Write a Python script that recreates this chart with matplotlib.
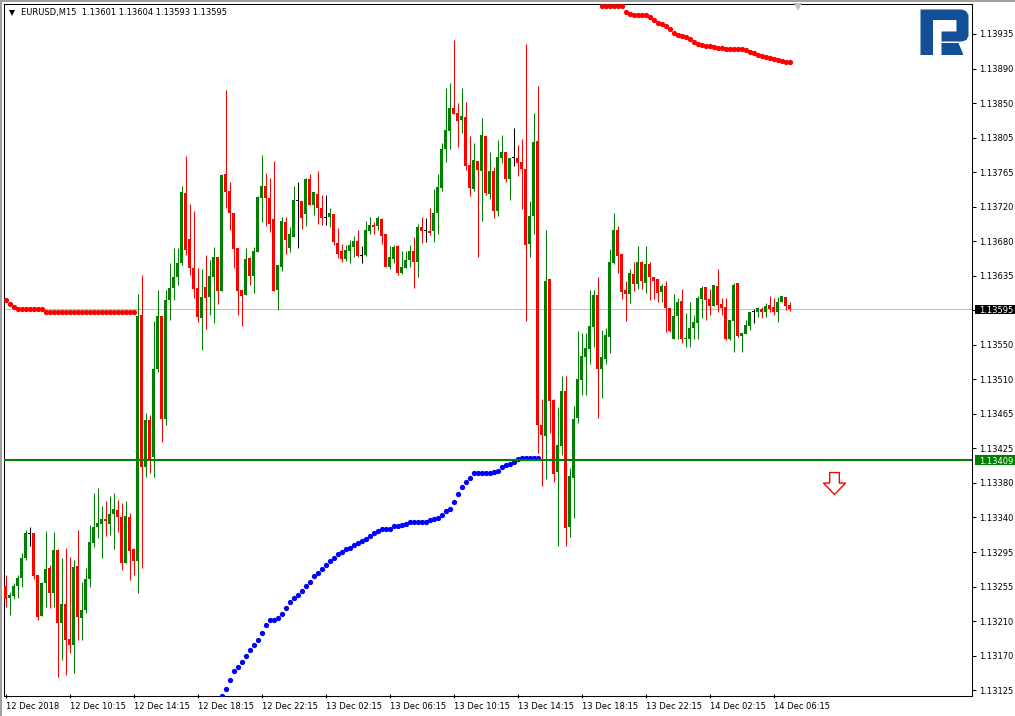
import numpy as np
import matplotlib
matplotlib.use('Agg')
import matplotlib.pyplot as plt
import matplotlib.transforms as mtransforms
from matplotlib.patches import Polygon, Rectangle
from matplotlib.lines import Line2D
from matplotlib.path import Path

plt.rcParams['font.family'] = 'DejaVu Sans'

symbol = 'EURUSD,M15'

# OHLC in points (1e-5), bar 0 = 12 Dec 2018 06:15, M15
open_pts = [113253, 113239, 113241, 113253, 113263, 113288, 113319, 113319, 113267, 113216,
            113257, 113276, 113245, 113298, 113208, 113231, 113188, 113181, 113278, 113214,
            113224, 113262, 113307, 113326, 113330, 113336, 113330, 113342, 113347, 113339,
            113282, 113339, 113299, 113284, 113588, 113400, 113458, 113413, 113521, 113587,
            113460, 113607, 113621, 113635, 113652, 113739, 113682, 113646, 113621, 113584,
            113623, 113610, 113635, 113660, 113618, 113762, 113741, 113714, 113671, 113619,
            113613, 113658, 113636, 113666, 113733, 113747, 113733, 113707, 113619, 113647,
            113703, 113671, 113684, 113730, 113729, 113713, 113756, 113724, 113737, 113720,
            113709, 113709, 113713, 113677, 113667, 113657, 113667, 113672, 113679, 113662,
            113662, 113692, 113699, 113698, 113707, 113688, 113647, 113657, 113673, 113640,
            113646, 113656, 113667, 113654, 113697, 113693, 113692, 113692, 113714, 113745,
            113793, 113815, 113844, 113837, 113829, 113832, 113773, 113744, 113778, 113766,
            113809, 113737, 113766, 113717, 113782, 113789, 113756, 113782, 113782, 113777,
            113768, 113676, 113710, 113803, 113452, 113439, 113633, 113483, 113394, 113426,
            113494, 113326, 113387, 113461, 113508, 113536, 113546, 113573, 113613, 113521,
            113534, 113561, 113652, 113693, 113663, 113619, 113614, 113639, 113626, 113654,
            113628, 113651, 113635, 113633, 113617, 113624, 113597, 113559, 113587, 113605,
            113558, 113559, 113572, 113578, 113608, 113623, 113608, 113599, 113624, 113602,
            113598, 113559, 113581, 113628, 113562, 113565, 113574, 113592, 113592, 113596,
            113592, 113600, 113598, 113592, 113604, 113610, 113601]
high_pts = [113267, 113246, 113257, 113267, 113294, 113323, 113326, 113319, 113267, 113258,
            113321, 113279, 113320, 113299, 113288, 113300, 113289, 113286, 113323, 113258,
            113276, 113329, 113368, 113375, 113352, 113358, 113365, 113368, 113360, 113356,
            113358, 113344, 113300, 113614, 113637, 113467, 113465, 113581, 113619, 113587,
            113619, 113652, 113671, 113671, 113747, 113784, 113725, 113716, 113646, 113645,
            113662, 113656, 113672, 113660, 113762, 113866, 113752, 113714, 113671, 113619,
            113671, 113660, 113672, 113735, 113786, 113763, 113757, 113778, 113650, 113709,
            113709, 113697, 113747, 113752, 113729, 113757, 113762, 113740, 113766, 113736,
            113736, 113720, 113713, 113696, 113676, 113675, 113681, 113686, 113693, 113673,
            113704, 113709, 113703, 113710, 113708, 113688, 113673, 113675, 113675, 113667,
            113667, 113675, 113684, 113700, 113709, 113708, 113720, 113744, 113762, 113800,
            113868, 113874, 113928, 113850, 113868, 113851, 113809, 113800, 113778, 113831,
            113809, 113789, 113771, 113804, 113810, 113789, 113782, 113819, 113798, 113805,
            113923, 113729, 113837, 113871, 113484, 113693, 113633, 113484, 113475, 113513,
            113513, 113399, 113476, 113568, 113566, 113566, 113619, 113619, 113635, 113570,
            113572, 113670, 113714, 113698, 113663, 113630, 113645, 113654, 113673, 113655,
            113673, 113654, 113635, 113633, 113626, 113630, 113597, 113614, 113609, 113620,
            113591, 113604, 113588, 113612, 113624, 113623, 113620, 113625, 113645, 113609,
            113609, 113582, 113628, 113628, 113566, 113582, 113592, 113596, 113598, 113598,
            113603, 113612, 113609, 113610, 113612, 113610, 113604]
low_pts = [113228, 113218, 113237, 113239, 113252, 113286, 113303, 113262, 113212, 113216,
           113228, 113226, 113228, 113141, 113162, 113144, 113171, 113146, 113187, 113187,
           113220, 113252, 113302, 113313, 113288, 113315, 113317, 113299, 113320, 113273,
           113282, 113261, 113267, 113245, 113276, 113388, 113393, 113388, 113518, 113431,
           113452, 113582, 113607, 113625, 113650, 113662, 113637, 113609, 113579, 113545,
           113571, 113588, 113578, 113602, 113618, 113720, 113693, 113646, 113588, 113574,
           113613, 113625, 113615, 113666, 113703, 113698, 113691, 113618, 113594, 113642,
           113663, 113666, 113684, 113671, 113694, 113698, 113724, 113712, 113700, 113699,
           113699, 113697, 113675, 113658, 113654, 113655, 113652, 113660, 113660, 113652,
           113661, 113688, 113688, 113693, 113676, 113647, 113645, 113652, 113637, 113639,
           113646, 113647, 113621, 113635, 113677, 113678, 113687, 113678, 113688, 113741,
           113777, 113793, 113836, 113795, 113813, 113767, 113735, 113741, 113660, 113704,
           113736, 113731, 113708, 113710, 113776, 113752, 113730, 113772, 113760, 113719,
           113581, 113660, 113688, 113418, 113377, 113386, 113443, 113382, 113303, 113415,
           113303, 113314, 113337, 113455, 113489, 113489, 113528, 113549, 113461, 113486,
           113528, 113541, 113651, 113640, 113608, 113581, 113603, 113618, 113620, 113620,
           113615, 113607, 113608, 113604, 113604, 113567, 113567, 113559, 113558, 113553,
           113549, 113549, 113559, 113559, 113584, 113582, 113588, 113599, 113592, 113588,
           113557, 113557, 113542, 113561, 113542, 113565, 113570, 113578, 113586, 113584,
           113586, 113592, 113588, 113579, 113604, 113594, 113593]
close_pts = [113237, 113242, 113253, 113263, 113288, 113319, 113319, 113266, 113215, 113257,
             113274, 113245, 113298, 113208, 113231, 113187, 113181, 113277, 113215, 113224,
             113262, 113308, 113326, 113331, 113336, 113334, 113342, 113349, 113339, 113282,
             113340, 113297, 113284, 113587, 113400, 113458, 113409, 113521, 113587, 113460,
             113607, 113621, 113635, 113652, 113740, 113668, 113646, 113620, 113586, 113610,
             113609, 113636, 113660, 113618, 113761, 113740, 113714, 113670, 113618, 113612,
             113657, 113636, 113667, 113734, 113747, 113733, 113700, 113618, 113650, 113704,
             113681, 113688, 113730, 113730, 113708, 113756, 113724, 113740, 113720, 113708,
             113709, 113714, 113678, 113663, 113657, 113668, 113675, 113679, 113661, 113662,
             113693, 113699, 113697, 113708, 113686, 113647, 113660, 113672, 113640, 113647,
             113656, 113667, 113654, 113697, 113692, 113693, 113689, 113714, 113746, 113793,
             113816, 113844, 113836, 113828, 113834, 113772, 113745, 113779, 113767, 113810,
             113739, 113766, 113717, 113783, 113789, 113756, 113782, 113782, 113776, 113768,
             113675, 113710, 113802, 113452, 113440, 113630, 113482, 113392, 113428, 113494,
             113325, 113389, 113460, 113509, 113537, 113547, 113574, 113613, 113521, 113536,
             113563, 113654, 113693, 113661, 113617, 113614, 113640, 113626, 113654, 113630,
             113651, 113635, 113630, 113615, 113624, 113597, 113568, 113587, 113604, 113559,
             113559, 113572, 113579, 113609, 113621, 113607, 113599, 113625, 113600, 113597,
             113559, 113582, 113625, 113562, 113566, 113576, 113592, 113592, 113597, 113592,
             113599, 113596, 113592, 113604, 113612, 113599, 113595]

# parabolic SAR dots: first bar index + values in points
sar_left_start = 0
sar_left_pts = [113607, 113602, 113598, 113596, 113595, 113595, 113595, 113595, 113595, 113595,
                113592, 113592, 113592, 113592, 113592, 113592, 113592, 113592, 113592, 113592,
                113592, 113592, 113592, 113592, 113592, 113592, 113592, 113592, 113592, 113592,
                113592, 113592, 113592]
sar_blue_start = 54
sar_blue_pts = [113118, 113127, 113138, 113149, 113154, 113160, 113167, 113175, 113181, 113187,
                113196, 113205, 113212, 113212, 113214, 113219, 113227, 113234, 113239, 113242,
                113248, 113254, 113259, 113266, 113270, 113275, 113280, 113284, 113288, 113293,
                113296, 113299, 113301, 113304, 113307, 113309, 113312, 113315, 113319, 113321,
                113324, 113324, 113324, 113328, 113328, 113329, 113330, 113332, 113332, 113332,
                113332, 113333, 113335, 113336, 113337, 113341, 113346, 113349, 113357, 113367,
                113376, 113382, 113387, 113393, 113393, 113393, 113393, 113393, 113394, 113395,
                113400, 113403, 113404, 113407, 113410, 113411, 113411, 113411, 113411, 113411]
sar_top_start = 149
sar_top_pts = [113969, 113969, 113969, 113969, 113969, 113969, 113962, 113960, 113958, 113958,
               113958, 113958, 113956, 113952, 113949, 113947, 113945, 113941, 113936, 113934,
               113932, 113931, 113929, 113925, 113923, 113921, 113920, 113920, 113919, 113918,
               113918, 113917, 113916, 113916, 113916, 113916, 113915, 113913, 113911, 113909,
               113908, 113907, 113905, 113904, 113903, 113902, 113901, 113900]

level_price = 1.13409
arrow_bar = 207
arrow_price = 1.13381
shift_bar = 198

time_ticks = [0, 16, 32, 48, 64, 80, 96, 112, 128, 144, 160, 176, 192]
time_labels = ['12 Dec 2018', '12 Dec 10:15', '12 Dec 14:15', '12 Dec 18:15', '12 Dec 22:15',
               '13 Dec 02:15', '13 Dec 06:15', '13 Dec 10:15', '13 Dec 14:15', '13 Dec 18:15',
               '13 Dec 22:15', '14 Dec 02:15', '14 Dec 06:15']
price_labels = ['1.13935', '1.13890', '1.13850', '1.13805', '1.13765', '1.13720', '1.13680',
                '1.13635', '1.13595', '1.13550', '1.13510', '1.13465', '1.13425', '1.13380',
                '1.13340', '1.13295', '1.13255', '1.13210', '1.13170', '1.13125']

UP, DOWN, DOJI = '#008000', '#ff0000', '#000000'

o = np.array(open_pts) / 1e5
h = np.array(high_pts) / 1e5
l = np.array(low_pts) / 1e5
c = np.array(close_pts) / 1e5
n = len(o)
x = np.arange(n)

W, H = 1015, 716
fig = plt.figure(figsize=(W / 100, H / 100), dpi=100)
fig.patch.set_facecolor('white')
ax = fig.add_axes([4 / W, 20 / H, 968 / W, 692 / H])
ax.set_xlim(-0.375, 241.625)
y_lo, y_hi = 1.131178, 1.139720
ax.set_ylim(y_lo, y_hi)
px = (y_hi - y_lo) / 692

cols = np.where(c > o, UP, np.where(c < o, DOWN, DOJI))

ax.axhline(c[-1], color='#c0c0c0', lw=0.75, zorder=1)
ax.vlines(x, l, h, colors=cols, lw=0.75, zorder=2)
body_lo = np.minimum(o, c)
body_h = np.abs(c - o)
thin = body_h < px
body_lo[thin] -= (px - body_h[thin]) / 2
body_h[thin] = px
ax.bar(x, body_h, bottom=body_lo, width=0.75, color=cols, linewidth=0, zorder=3)

for start, vals, col in [(sar_left_start, sar_left_pts, '#ff0000'),
                         (sar_blue_start, sar_blue_pts, '#0000ff'),
                         (sar_top_start, sar_top_pts, '#ff0000')]:
    xs = np.arange(start, start + len(vals))
    ax.plot(xs, np.array(vals) / 1e5, 'o', color=col, ms=3.8, mew=0, zorder=4)

ax.axhline(level_price, color=UP, lw=1.5, zorder=5)

# sell arrow object
arrow_path = Path([(-0.22, 0.5), (0.22, 0.5), (0.22, 0.02), (0.5, 0.02), (0, -0.5),
                   (-0.5, 0.02), (-0.22, 0.02), (-0.22, 0.5)],
                  [Path.MOVETO] + [Path.LINETO] * 6 + [Path.CLOSEPOLY])
ax.plot([arrow_bar], [arrow_price], marker=arrow_path, ms=15.8, mfc='white',
        mec='#ff0000', mew=1, zorder=6)

# chart shift marker
ax.plot([shift_bar], [1 - 3 / 692], marker='v', ms=6, color='#c0c0c0', mew=0,
        transform=ax.get_xaxis_transform(), clip_on=False, zorder=6)

# axes
ax.yaxis.tick_right()
ax.set_yticks(np.linspace(1.13935, 1.13125, len(price_labels)))
ax.set_yticklabels(price_labels)
ax.tick_params(axis='y', direction='out', length=3, width=0.75, pad=2, labelsize=6)
ax.set_xticks(time_ticks)
ax.set_xticklabels(time_labels, ha='left')
ax.tick_params(axis='x', direction='inout', length=3, width=0.75, pad=3, labelsize=6)
for s in ax.spines.values():
    s.set_linewidth(0.75)
    s.set_color('black')

# price labels on the scale
trans = mtransforms.blended_transform_factory(ax.transAxes, ax.transData)
for price, bg in [(c[-1], 'black'), (level_price, UP)]:
    ax.add_patch(Rectangle((971 / 968, price - 4.7 * px), 42 / 968, 9.4 * px, transform=trans,
                           facecolor=bg, edgecolor='none', clip_on=False, zorder=7))
    ax.text(975 / 968, price, f'{price:.5f}', transform=trans, color='white', fontsize=6,
            va='center_baseline', ha='left', clip_on=False, zorder=8)

# pixel transform for window decorations (top-left origin)
px_t = mtransforms.Affine2D().scale(1 / W, -1 / H).translate(0, 1) + fig.transFigure

fig.add_artist(Rectangle((0, 0), W, 2, transform=px_t, facecolor='#a0a0a0', edgecolor='none'))
fig.add_artist(Rectangle((0, 0), 1.7, H, transform=px_t, facecolor='#a0a0a0', edgecolor='none'))

# header
fig.add_artist(Line2D([12.5], [13.3], marker='v', ms=4, color='black', mew=0, transform=px_t))
header = '{}  {:.5f} {:.5f} {:.5f} {:.5f}'.format(symbol, o[-1], h[-1], l[-1], c[-1])
fig.text(20.7 / W, 1 - 13 / H, header, fontsize=6, va='center', ha='left')

# logo
logo_col = '#134f96'
fig.add_artist(Polygon([(920.5, 9.5), (962, 9.5), (966, 11), (968.5, 15), (968.5, 36),
                        (966.5, 40), (962, 41.5), (941.5, 41.5), (941.5, 31.5), (956.5, 31.5),
                        (956.5, 20), (933, 20), (933, 55), (920.5, 55)],
                       closed=True, transform=px_t, facecolor=logo_col, edgecolor='none'))
fig.add_artist(Polygon([(941.5, 43), (958.5, 43), (963.5, 55), (941.5, 55)],
                       closed=True, transform=px_t, facecolor=logo_col, edgecolor='none'))

fig.savefig('out.png', dpi=100)
